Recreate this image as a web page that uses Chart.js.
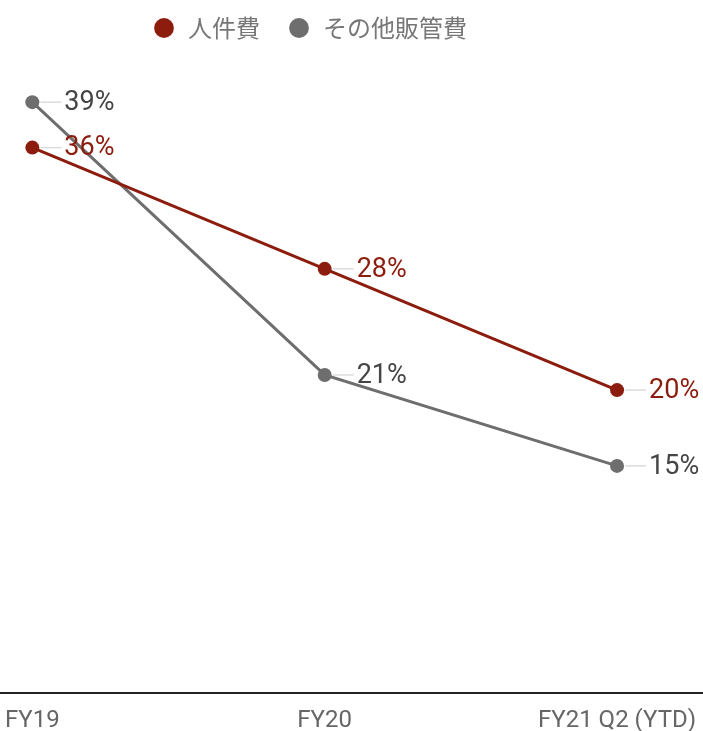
<!DOCTYPE html>
<html>
<head>
<meta charset="utf-8">
<script src="https://cdn.jsdelivr.net/npm/chart.js@4/dist/chart.umd.min.js"></script>
<style>
  html, body { margin: 0; padding: 0; background: #fff; }
  #wrap { width: 703px; height: 731px; }
</style>
</head>
<body>
<div id="wrap"><canvas id="ratioChart"></canvas></div>
<script>
// Cost ratios by period
const periods = ['FY19', 'FY20', 'FY21 Q2 (YTD)'];
const personnelCost = [36, 28, 20];
const otherSga = [39, 21, 15];
const seriesNames = ['人件費', 'その他販管費'];

const RED = '#8c1d0e';
const GREY = '#6e6e6e';

// Value labels with a short leader line to the right of each point
const valueLabels = {
  id: 'valueLabels',
  afterDatasetsDraw(chart) {
    const ctx = chart.ctx;
    ctx.save();
    ctx.font = '27px Roboto, sans-serif';
    ctx.textBaseline = 'middle';
    ctx.textAlign = 'left';
    chart.data.datasets.forEach((ds, i) => {
      const meta = chart.getDatasetMeta(i);
      meta.data.forEach((pt, j) => {
        ctx.strokeStyle = '#dcdcdc';
        ctx.lineWidth = 1.5;
        ctx.beginPath();
        ctx.moveTo(pt.x + 8, pt.y);
        ctx.lineTo(pt.x + 29, pt.y);
        ctx.stroke();
        ctx.fillStyle = ds.labelColor;
        ctx.fillText(ds.data[j].y + '%', pt.x + 32, pt.y + 1);
      });
    });
    ctx.restore();
  }
};

// Pull the legend up and to the left of centre
const legendShift = {
  id: 'legendShift',
  afterLayout(chart) {
    chart.legend.left -= 42;
    chart.legend.right -= 42;
    chart.legend.top -= 37;
  }
};

const toPoints = arr => arr.map((v, i) => ({ x: i, y: v }));

new Chart(document.getElementById('ratioChart'), {
  type: 'line',
  data: {
    datasets: [{
      label: seriesNames[0],
      data: toPoints(personnelCost),
      borderColor: RED,
      backgroundColor: RED,
      labelColor: RED,
      borderWidth: 3,
      pointRadius: 7,
      pointHoverRadius: 7,
      pointBorderWidth: 0,
      tension: 0
    }, {
      label: seriesNames[1],
      data: toPoints(otherSga),
      borderColor: GREY,
      backgroundColor: GREY,
      labelColor: '#454545',
      borderWidth: 3,
      pointRadius: 7,
      pointHoverRadius: 7,
      pointBorderWidth: 0,
      tension: 0
    }]
  },
  options: {
    responsive: true,
    maintainAspectRatio: false,
    animation: false,
    layout: { autoPadding: false, padding: { top: 26, bottom: -9, left: 0, right: 0 } },
    plugins: {
      legend: {
        position: 'top',
        labels: {
          font: { family: '"Noto Sans CJK JP", Roboto, sans-serif', size: 24 },
          color: '#777',
          usePointStyle: true,
          pointStyle: 'circle',
          boxHeight: 14,
          padding: 27
        }
      },
      tooltip: { enabled: false }
    },
    scales: {
      x: {
        type: 'linear',
        min: -0.109,
        max: 2.294,
        afterBuildTicks: axis => { axis.ticks = periods.map((_, i) => ({ value: i })); },
        grid: { display: false },
        border: { display: true, color: '#222', width: 2 },
        ticks: {
          autoSkip: false,
          maxRotation: 0,
          padding: 5,
          color: '#666',
          font: { family: 'Roboto, "Noto Sans CJK JP", sans-serif', size: 24 },
          callback: v => periods[v]
        }
      },
      y: {
        display: false,
        min: 0,
        max: 40
      }
    }
  },
  plugins: [valueLabels, legendShift]
});
</script>
</body>
</html>
